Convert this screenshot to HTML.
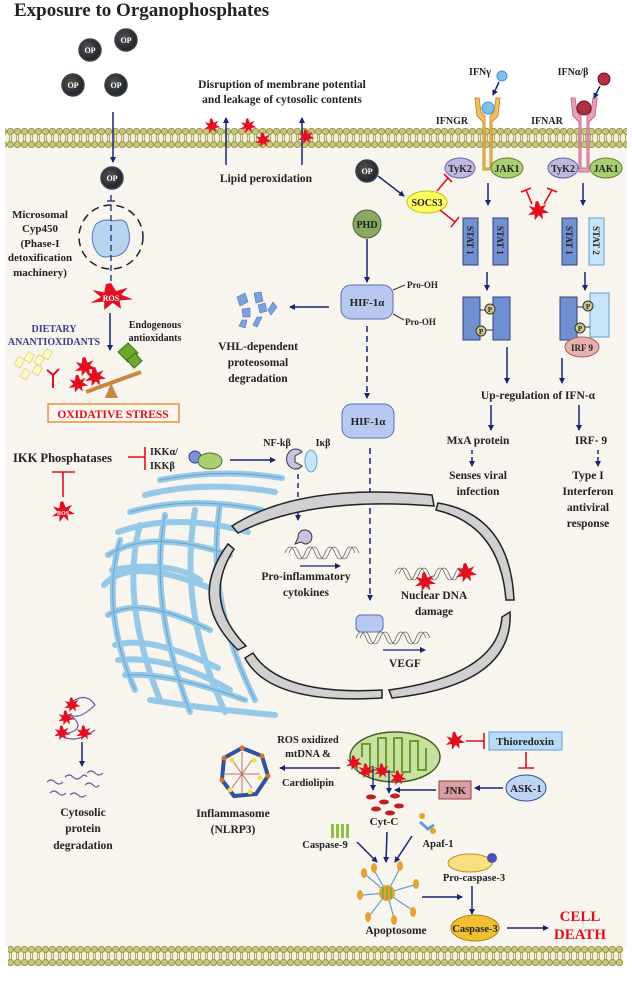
<!DOCTYPE html>
<html><head><meta charset="utf-8"><style>
html,body{margin:0;padding:0;background:#fff}
svg{display:block}
text{font-family:"Liberation Serif",serif;font-weight:bold;fill:#222}
</style></head><body>
<svg width="632" height="1002" viewBox="0 0 632 1002" xmlns="http://www.w3.org/2000/svg">
<defs>
<pattern id="mem" x="0" y="128" width="7" height="20" patternUnits="userSpaceOnUse">
<rect width="7" height="20" fill="#f3f0d8"/>
<circle cx="3.5" cy="3.5" r="3.1" fill="#c9c57a" stroke="#8a8a40" stroke-width="0.8"/>
<circle cx="3.5" cy="16.5" r="3.1" fill="#c9c57a" stroke="#8a8a40" stroke-width="0.8"/>
<line x1="2.5" y1="6.5" x2="2.5" y2="13.5" stroke="#9a9a60" stroke-width="0.8"/>
<line x1="4.5" y1="6.5" x2="4.5" y2="13.5" stroke="#9a9a60" stroke-width="0.8"/>
</pattern>
<pattern id="mem2" x="0" y="946" width="7" height="20" patternUnits="userSpaceOnUse">
<rect width="7" height="20" fill="#f3f0d8"/>
<circle cx="3.5" cy="3.5" r="3.1" fill="#c9c57a" stroke="#8a8a40" stroke-width="0.8"/>
<circle cx="3.5" cy="16.5" r="3.1" fill="#c9c57a" stroke="#8a8a40" stroke-width="0.8"/>
<line x1="2.5" y1="6.5" x2="2.5" y2="13.5" stroke="#9a9a60" stroke-width="0.8"/>
<line x1="4.5" y1="6.5" x2="4.5" y2="13.5" stroke="#9a9a60" stroke-width="0.8"/>
</pattern>
<marker id="ah" markerWidth="6" markerHeight="6" refX="5" refY="3" orient="auto" markerUnits="userSpaceOnUse"><path d="M0,0 L6,3 L0,6 z" fill="#1a2470"/></marker>
<radialGradient id="op" cx="0.4" cy="0.4"><stop offset="0" stop-color="#555"/><stop offset="1" stop-color="#2a2a2a"/></radialGradient>
<g id="star"><polygon transform="scale(0.65)" points="0,-12 3,-5 10,-8 6,-2 13,2 5,3 6,10 1,5 -4,11 -4,4 -12,5 -6,0 -11,-6 -4,-4 -3,-11" fill="#e01020"/></g>
<g id="dna" fill="none" stroke="#666" stroke-width="0.8">
<path d="M0,0 c3,-8 7,-8 10,0 s7,8 10,0 s7,-8 10,0 s7,8 10,0 s7,-8 10,0 s7,8 10,0 s7,-8 10,0"/>
<path d="M4,0 c3,-8 7,-8 10,0 s7,8 10,0 s7,-8 10,0 s7,8 10,0 s7,-8 10,0 s7,8 10,0 s7,-8 10,0"/>
</g>
</defs>

<rect x="5" y="146" width="622" height="802" fill="#f8f4ee"/>
<rect x="5" y="128" width="622" height="20" fill="url(#mem)"/>
<rect x="8" y="946" width="615" height="20" fill="url(#mem2)"/>

<text x="14" y="16" font-size="19" fill="#111">Exposure to Organophosphates</text>

<g font-size="8" text-anchor="middle">
<circle cx="90" cy="50" r="11" fill="url(#op)" stroke="#345" stroke-width="1.5"/><text x="90" y="53" style="fill:#fff">OP</text>
<circle cx="126" cy="40" r="11" fill="url(#op)" stroke="#345" stroke-width="1.5"/><text x="126" y="43" style="fill:#fff">OP</text>
<circle cx="73" cy="85" r="11" fill="url(#op)" stroke="#345" stroke-width="1.5"/><text x="73" y="88" style="fill:#fff">OP</text>
<circle cx="116" cy="85" r="11" fill="url(#op)" stroke="#345" stroke-width="1.5"/><text x="116" y="88" style="fill:#fff">OP</text>
<circle cx="112" cy="178" r="11" fill="url(#op)" stroke="#345" stroke-width="1.5"/><text x="112" y="181" style="fill:#fff">OP</text>
<circle cx="367" cy="171" r="11" fill="url(#op)" stroke="#345" stroke-width="1.5"/><text x="367" y="174" style="fill:#fff">OP</text>
</g>
<line x1="113" y1="112" x2="113" y2="162" stroke="#1a2470" stroke-width="1.5" marker-end="url(#ah)"/>

<circle cx="111" cy="237" r="32" fill="none" stroke="#222" stroke-width="1.5" stroke-dasharray="8,5"/>
<path d="M96,224 Q104,218 114,221 Q126,217 128,228 Q132,242 125,251 Q118,258 110,256 Q101,260 95,249 Q89,236 96,224 z" fill="#b8d4f0" stroke="#4a7ac0"/>
<line x1="111" y1="195" x2="111" y2="283" stroke="#1a2470" stroke-width="1.3" stroke-dasharray="6,4"/>
<line x1="107" y1="201" x2="115" y2="201" stroke="#1a2470" stroke-width="1.3"/>
<g font-size="11" text-anchor="middle">
<text x="40" y="218">Microsomal</text><text x="40" y="232">Cyp450</text><text x="40" y="247">(Phase-I</text><text x="40" y="261">detoxification</text><text x="40" y="276">machinery)</text>
</g>
<g transform="translate(111,297) scale(2.6,1.8)"><use href="#star"/></g>
<text x="111" y="301" font-size="8" text-anchor="middle" style="fill:#fff">ROS</text>
<line x1="110" y1="313" x2="110" y2="350" stroke="#1a2470" stroke-width="1.5" marker-end="url(#ah)"/>
<text x="54" y="332" font-size="10" text-anchor="middle" style="fill:#3a3a8a">DIETARY</text>
<text x="54" y="345" font-size="10" text-anchor="middle" style="fill:#3a3a8a">ANANTIOXIDANTS</text>
<text x="155" y="328" font-size="10" text-anchor="middle">Endogenous</text>
<text x="155" y="341" font-size="10" text-anchor="middle">antioxidants</text>
<g fill="#fffbc0" stroke="#d8d090" stroke-width="0.8">
<rect x="16" y="358" width="7" height="9" transform="rotate(30 20 362)"/><rect x="26" y="353" width="7" height="9" transform="rotate(30 30 357)"/><rect x="36" y="356" width="7" height="9" transform="rotate(30 40 360)"/><rect x="44" y="350" width="7" height="9" transform="rotate(30 48 354)"/><rect x="22" y="370" width="7" height="9" transform="rotate(30 26 374)"/><rect x="34" y="366" width="7" height="9" transform="rotate(30 38 370)"/>
</g>
<path d="M47,370 L53,375 L53,388 M53,375 L59,369" stroke="#e01020" stroke-width="2" fill="none"/>
<g transform="translate(85,367) scale(1.3)"><use href="#star"/></g>
<g transform="translate(95,377) scale(1.3)"><use href="#star"/></g>
<g transform="translate(78,384) scale(1.2)"><use href="#star"/></g>
<polygon points="118,352 128,343 138,353 128,362" fill="#6aa830" stroke="#3a7010"/>
<polygon points="127,360 135,353 142,361 134,368" fill="#6aa830" stroke="#3a7010"/>
<line x1="86" y1="392" x2="141" y2="372" stroke="#c88840" stroke-width="4"/>
<polygon points="111,383 105,398 118,398" fill="#c88840"/>
<rect x="48" y="404" width="131" height="18" fill="#fdf6ec" stroke="#e89040" stroke-width="1.5"/>
<text x="113" y="418" font-size="11.5" text-anchor="middle" style="fill:#e01020">OXIDATIVE STRESS</text>

<g font-size="11.5" text-anchor="middle">
<text x="282" y="88">Disruption of membrane potential</text>
<text x="282" y="103">and leakage of cytosolic contents</text>
<text x="266" y="182">Lipid peroxidation</text>
</g>
<line x1="226" y1="165" x2="226" y2="118" stroke="#1a2470" stroke-width="1.5" marker-end="url(#ah)"/>
<line x1="302" y1="165" x2="302" y2="118" stroke="#1a2470" stroke-width="1.5" marker-end="url(#ah)"/>
<use href="#star" x="212" y="126"/><use href="#star" x="248" y="126"/><use href="#star" x="263" y="140"/><use href="#star" x="306" y="137"/>

<circle cx="367" cy="224" r="14" fill="#8aa860" stroke="#4a6030"/>
<text x="367" y="228" font-size="10" text-anchor="middle">PHD</text>
<line x1="367" y1="239" x2="367" y2="282" stroke="#1a2470" stroke-width="1.5" marker-end="url(#ah)"/>
<rect x="341" y="285" width="52" height="34" rx="10" fill="#b8c8f0" stroke="#5a70b0"/>
<text x="367" y="306" font-size="11" text-anchor="middle">HIF-1α</text>
<path d="M393,290 L405,285 M393,314 L404,320" stroke="#333"/>
<text x="407" y="288" font-size="9">Pro-OH</text><text x="405" y="325" font-size="9">Pro-OH</text>
<line x1="329" y1="307" x2="290" y2="307" stroke="#1a2470" stroke-width="1.5" marker-end="url(#ah)"/>
<g fill="#7ea0e0" stroke="#4a70b0" stroke-width="0.6">
<polygon points="237,297 245,293 248,302 240,306"/><polygon points="254,293 261,292 263,301 256,303"/><polygon points="242,309 250,308 250,317 243,317"/><polygon points="258,305 265,303 267,311 260,313"/><polygon points="273,302 277,307 271,315 268,310"/><polygon points="242,320 247,320 245,328 239,326"/><polygon points="257,317 262,317 257,327 253,325"/>
</g>
<g font-size="11.5" text-anchor="middle"><text x="258" y="350">VHL-dependent</text><text x="258" y="366">proteosomal</text><text x="258" y="382">degradation</text></g>
<line x1="367" y1="326" x2="367" y2="398" stroke="#1a2470" stroke-width="1.5" stroke-dasharray="6,4" marker-end="url(#ah)"/>
<rect x="342" y="404" width="52" height="34" rx="10" fill="#b8c8f0" stroke="#5a70b0"/>
<text x="368" y="425" font-size="11" text-anchor="middle">HIF-1α</text>
<line x1="370" y1="448" x2="370" y2="600" stroke="#1a2470" stroke-width="1.5" stroke-dasharray="6,4" marker-end="url(#ah)"/>

<text x="480" y="75" font-size="10" text-anchor="middle">IFNγ</text>
<circle cx="502" cy="76" r="5" fill="#7ec0f0" stroke="#4a90d0"/>
<text x="573" y="75" font-size="10" text-anchor="middle">IFNα/β</text>
<circle cx="604" cy="79" r="6" fill="#b03040" stroke="#701020"/>
<text x="452" y="124" font-size="10" text-anchor="middle">IFNGR</text>
<text x="547" y="124" font-size="10" text-anchor="middle">IFNAR</text>
<path d="M475,98 L479,98 L481,112 L485,116 L485,168 L490,168 L490,116 L494,112 L496,98 L500,98 L498,116 L492,122 L492,170 L483,170 L483,122 L477,116 z" fill="#f0c060" stroke="#c89030"/>
<circle cx="488" cy="108" r="6" fill="#7ec0f0" stroke="#4a90d0"/>
<path d="M571,98 L575,98 L577,112 L581,116 L581,168 L587,168 L587,116 L591,112 L593,98 L597,98 L595,116 L589,122 L589,172 L579,172 L579,122 L573,116 z" fill="#e8a0b8" stroke="#c07090"/>
<circle cx="584" cy="108" r="7" fill="#b03040" stroke="#701020"/>
<line x1="499" y1="82" x2="493" y2="95" stroke="#1a2470" stroke-width="1.5" marker-end="url(#ah)"/>
<line x1="600" y1="86" x2="594" y2="98" stroke="#1a2470" stroke-width="1.5" marker-end="url(#ah)"/>
<g font-size="10" text-anchor="middle">
<ellipse cx="460" cy="168" rx="15" ry="10" fill="#c0b8e0" stroke="#6a60a0"/><text x="460" y="172">TyK2</text>
<ellipse cx="507" cy="168" rx="16" ry="10" fill="#a8d070" stroke="#608030"/><text x="507" y="172">JAK1</text>
<ellipse cx="563" cy="168" rx="15" ry="10" fill="#c0b8e0" stroke="#6a60a0"/><text x="563" y="172">TyK2</text>
<ellipse cx="606" cy="168" rx="16" ry="10" fill="#a8d070" stroke="#608030"/><text x="606" y="172">JAK1</text>
<ellipse cx="427" cy="202" rx="20" ry="11" fill="#ffff60" stroke="#c0c000"/><text x="427" y="206">SOCS3</text>
</g>
<line x1="378" y1="176" x2="404" y2="196" stroke="#1a2470" stroke-width="1.5" marker-end="url(#ah)"/>
<g stroke="#e01020" stroke-width="1.6" fill="none">
<path d="M437,191 L448,178 M444,174 L452,182"/>
<path d="M440,210 L455,222 M451,227 L459,217"/>
<path d="M532,204 L526,190 M521,192 L531,188"/>
<path d="M544,204 L552,190 M547,188 L557,192"/>
</g>
<g transform="translate(538,211) scale(1.3)"><use href="#star"/></g>
<line x1="488" y1="183" x2="488" y2="205" stroke="#1a2470" stroke-width="1.5" marker-end="url(#ah)"/>
<line x1="583" y1="183" x2="583" y2="205" stroke="#1a2470" stroke-width="1.5" marker-end="url(#ah)"/>
<g font-size="9">
<rect x="463" y="218" width="15" height="47" fill="#7090d0" stroke="#304080"/>
<text transform="translate(467,226) rotate(90)">STAT 1</text>
<rect x="493" y="218" width="15" height="47" fill="#7090d0" stroke="#304080"/>
<text transform="translate(497,226) rotate(90)">STAT 1</text>
<rect x="562" y="218" width="15" height="47" fill="#7090d0" stroke="#304080"/>
<text transform="translate(566,226) rotate(90)">STAT 1</text>
<rect x="589" y="218" width="15" height="47" fill="#c8e4f8" stroke="#60a0d0"/>
<text transform="translate(593,226) rotate(90)">STAT 2</text>
</g>
<line x1="487" y1="272" x2="487" y2="290" stroke="#1a2470" stroke-width="1.5" marker-end="url(#ah)"/>
<line x1="585" y1="272" x2="585" y2="290" stroke="#1a2470" stroke-width="1.5" marker-end="url(#ah)"/>
<rect x="463" y="297" width="17" height="43" fill="#7090d0" stroke="#304080"/>
<rect x="493" y="297" width="17" height="43" fill="#7090d0" stroke="#304080"/>
<rect x="560" y="297" width="17" height="43" fill="#7090d0" stroke="#304080"/>
<rect x="590" y="293" width="19" height="44" fill="#c8e4f8" stroke="#60a0d0"/>
<g font-size="7" text-anchor="middle">
<line x1="480" y1="310" x2="493" y2="310" stroke="#333"/><circle cx="490" cy="309" r="5" fill="#c8c890" stroke="#333"/><text x="490" y="312">P</text>
<line x1="480" y1="330" x2="493" y2="330" stroke="#333"/><circle cx="481" cy="331" r="5" fill="#c8c890" stroke="#333"/><text x="481" y="334">P</text>
<line x1="577" y1="307" x2="590" y2="307" stroke="#333"/><circle cx="588" cy="306" r="5" fill="#c8c890" stroke="#333"/><text x="588" y="309">P</text>
<line x1="577" y1="327" x2="590" y2="327" stroke="#333"/><circle cx="580" cy="328" r="5" fill="#c8c890" stroke="#333"/><text x="580" y="331">P</text>
</g>
<ellipse cx="582" cy="347" rx="17" ry="10" fill="#e8b0b0" stroke="#a06060"/>
<text x="582" y="351" font-size="9" text-anchor="middle">IRF 9</text>
<line x1="507" y1="347" x2="507" y2="383" stroke="#1a2470" stroke-width="1.5" marker-end="url(#ah)"/>
<line x1="562" y1="358" x2="562" y2="383" stroke="#1a2470" stroke-width="1.5" marker-end="url(#ah)"/>
<g font-size="11.5" text-anchor="middle">
<text x="538" y="399">Up-regulation of IFN-α</text>
<text x="478" y="444">MxA protein</text><text x="591" y="444">IRF- 9</text>
<text x="478" y="479">Senses viral</text><text x="478" y="495">infection</text>
<text x="588" y="479">Type I</text><text x="588" y="495">Interferon</text><text x="588" y="511">antiviral</text><text x="588" y="527">response</text>
</g>
<line x1="491" y1="405" x2="491" y2="430" stroke="#1a2470" stroke-width="1.5" marker-end="url(#ah)"/>
<line x1="579" y1="405" x2="579" y2="430" stroke="#1a2470" stroke-width="1.5" marker-end="url(#ah)"/>
<line x1="472" y1="450" x2="472" y2="466" stroke="#1a2470" stroke-width="1.5" stroke-dasharray="4,3" marker-end="url(#ah)"/>
<line x1="598" y1="450" x2="598" y2="466" stroke="#1a2470" stroke-width="1.5" stroke-dasharray="4,3" marker-end="url(#ah)"/>

<!-- Golgi -->
<g fill="none" stroke="#96c8e8" stroke-width="6" stroke-linecap="round">
<path d="M160,480 Q220,468 282,478"/><path d="M145,495 Q205,480 275,492"/>
<path d="M130,512 Q190,495 262,510"/><path d="M118,532 Q175,512 248,532"/>
<path d="M108,555 Q150,528 230,555"/><path d="M104,585 Q130,555 215,590"/>
<path d="M108,615 Q140,595 210,630"/><path d="M115,645 Q150,635 218,668"/>
<path d="M125,675 Q170,672 245,700"/><path d="M150,700 Q200,708 275,715"/>
<path d="M140,525 Q120,600 160,700"/><path d="M165,515 Q148,600 190,712"/><path d="M195,510 Q178,610 225,712"/>
<path d="M120,540 Q100,610 135,690"/><path d="M220,505 Q205,600 255,700"/>
<path d="M112,570 Q170,560 200,580"/><path d="M118,660 Q170,655 230,690"/>
</g>
<g fill="none" stroke="#5a9ac8" stroke-width="1" opacity="0.8">
<path d="M160,480 Q220,468 282,478"/><path d="M130,512 Q190,495 262,510"/><path d="M108,555 Q150,528 230,555"/><path d="M108,615 Q140,595 210,630"/><path d="M125,675 Q170,672 245,700"/><path d="M165,515 Q148,600 190,712"/><path d="M120,540 Q100,610 135,690"/><path d="M220,505 Q205,600 255,700"/>
</g>

<text x="13" y="462" font-size="12.5">IKK  Phosphatases</text>
<path d="M128,457 L145,457 M145,447 L145,470" stroke="#e01020" stroke-width="1.6" fill="none"/>
<text x="150" y="455" font-size="10">IKKα/</text><text x="150" y="469" font-size="10">IKKβ</text>
<circle cx="195" cy="457" r="6" fill="#8090e0" stroke="#304080"/>
<ellipse cx="210" cy="461" rx="12" ry="8" fill="#a8d070" stroke="#507020"/>
<line x1="230" y1="460" x2="275" y2="460" stroke="#1a2470" stroke-width="1.5" marker-end="url(#ah)"/>
<text x="277" y="446" font-size="10" text-anchor="middle">NF-kβ</text><text x="323" y="446" font-size="10" text-anchor="middle">Iκβ</text>
<path d="M302,452 A9,10 0 1 0 302,466 L295,462 L295,456 z" fill="#c8c4e0" stroke="#333"/>
<ellipse cx="311" cy="461" rx="6" ry="11" fill="#c8e4f8" stroke="#60a0d0"/>
<line x1="298" y1="474" x2="298" y2="520" stroke="#1a2470" stroke-width="1.5" stroke-dasharray="5,4" marker-end="url(#ah)"/>
<path d="M52,472 L75,472 M63,472 L63,497" stroke="#e01020" stroke-width="1.6" fill="none"/>
<g transform="translate(63,512) scale(1.4)"><use href="#star"/></g>
<text x="63" y="515" font-size="6" text-anchor="middle" style="fill:#fff">ROS</text>

<g fill="#d0d0d0" stroke="#222" stroke-width="1.5">
<path d="M232,526 Q300,482 432,495 L434,506 Q310,496 238,533 z"/>
<path d="M438,503 Q510,515 514,600 L506,600 Q500,525 436,510 z"/>
<path d="M510,612 Q514,685 392,698 L389,690 Q498,675 502,617 z"/>
<path d="M382,698 Q270,705 245,658 L253,653 Q280,696 382,690 z"/>
<path d="M238,650 Q186,600 228,544 L234,549 Q201,600 246,646 z"/>
</g>
<path d="M298,538 A7,7 0 1 1 305,544 L301,542 L295,544 z" fill="#c8c4e0" stroke="#333"/>
<use href="#dna" x="285" y="553"/>
<use href="#dna" x="395" y="574"/>
<use href="#dna" x="356" y="638"/>
<g transform="translate(425,582) scale(1.3)"><use href="#star"/></g><g transform="translate(466,573) scale(1.3)"><use href="#star"/></g>
<rect x="356" y="615" width="27" height="17" rx="5" fill="#b8c8f0" stroke="#5a70b0"/>
<line x1="300" y1="566" x2="340" y2="566" stroke="#1a2470" stroke-width="1.3" marker-end="url(#ah)"/>
<line x1="383" y1="650" x2="425" y2="650" stroke="#1a2470" stroke-width="1.3" marker-end="url(#ah)"/>
<g font-size="11.5" text-anchor="middle">
<text x="306" y="580">Pro-inflammatory</text><text x="306" y="596">cytokines</text>
<text x="434" y="599">Nuclear DNA</text><text x="434" y="615">damage</text>
<text x="405" y="667">VEGF</text>
</g>

<path d="M68,705 Q85,690 95,705 Q80,720 70,715 Q90,730 60,735 Q75,745 95,730" fill="none" stroke="#6a5aa0" stroke-width="1.2"/>
<use href="#star" x="72" y="705"/><use href="#star" x="62" y="733"/><use href="#star" x="84" y="733"/><use href="#star" x="66" y="718"/>
<line x1="82" y1="742" x2="82" y2="766" stroke="#1a2470" stroke-width="1.5" marker-end="url(#ah)"/>
<g fill="none" stroke="#6a5aa0" stroke-width="1.2">
<path d="M47,782 q4,-4 8,0 t8,0"/><path d="M65,777 q4,-4 8,0 t8,0 t6,0"/><path d="M50,793 q4,-4 8,0 t8,0"/><path d="M87,773 q4,-4 8,0 t8,0"/><path d="M70,795 q4,-4 8,0 t8,0"/><path d="M85,785 q4,-4 8,0 t6,0"/>
</g>
<g font-size="11.5" text-anchor="middle"><text x="83" y="816">Cytosolic</text><text x="83" y="832">protein</text><text x="83" y="849">degradation</text></g>

<polygon points="242,748 262,756 268,776 256,794 234,796 222,780 224,758" fill="none" stroke="#3050a0" stroke-width="4"/>
<g stroke="#c07070" stroke-width="1"><line x1="232" y1="760" x2="252" y2="788"/><line x1="252" y1="760" x2="232" y2="788"/><line x1="225" y1="774" x2="260" y2="774"/><line x1="242" y1="752" x2="242" y2="794"/></g>
<g fill="#f0e040"><circle cx="232" cy="760" r="2.5"/><circle cx="254" cy="760" r="2.5"/><circle cx="260" cy="778" r="2.5"/><circle cx="230" cy="790" r="2.5"/><circle cx="250" cy="792" r="2.5"/></g>
<g fill="#e07020"><circle cx="242" cy="748" r="2.5"/><circle cx="262" cy="756" r="2.5"/><circle cx="268" cy="776" r="2.5"/><circle cx="222" cy="780" r="2.5"/><circle cx="224" cy="758" r="2.5"/></g>
<g font-size="11.5" text-anchor="middle"><text x="233" y="817">Inflammasome</text><text x="233" y="833">(NLRP3)</text></g>
<g font-size="10.5" text-anchor="middle"><text x="308" y="743">ROS oxidized</text><text x="308" y="757">mtDNA &amp;</text><text x="308" y="786">Cardiolipin</text></g>
<line x1="340" y1="768" x2="280" y2="768" stroke="#1a2470" stroke-width="1.5" marker-end="url(#ah)"/>

<ellipse cx="395" cy="757" rx="45" ry="25" fill="#c8e0a0" stroke="#406020" stroke-width="1.5"/>
<path d="M362,757 L362,744 L370,744 L370,770 L378,770 L378,738 L386,738 L386,772 L394,772 L394,738 L402,738 L402,772 L410,772 L410,741 L418,741 L418,770 L426,770 L426,748" fill="none" stroke="#6a9a30" stroke-width="2"/>
<use href="#star" x="354" y="763"/><use href="#star" x="366" y="771"/><use href="#star" x="382" y="771"/><use href="#star" x="398" y="778"/>
<line x1="373" y1="766" x2="373" y2="790" stroke="#1a2470" stroke-width="1.3" marker-end="url(#ah)"/>
<line x1="389" y1="770" x2="389" y2="793" stroke="#1a2470" stroke-width="1.3" marker-end="url(#ah)"/>
<g fill="#c02020"><ellipse cx="371" cy="797" rx="5" ry="2.5"/><ellipse cx="384" cy="802" rx="5" ry="2.5"/><ellipse cx="395" cy="796" rx="5" ry="2.5"/><ellipse cx="376" cy="809" rx="5" ry="2.5"/><ellipse cx="390" cy="813" rx="5" ry="2.5"/><ellipse cx="399" cy="806" rx="5" ry="2.5"/></g>
<g transform="translate(455,741) scale(1.2)"><use href="#star"/></g>
<path d="M466,741 L484,741 M484,733 L484,749" stroke="#e01020" stroke-width="1.6" fill="none"/>
<rect x="489" y="732" width="73" height="18" fill="#b8dcf8" stroke="#60a0d0"/>
<text x="525" y="745" font-size="11" text-anchor="middle">Thioredoxin</text>
<path d="M526,752 L526,768 M518,768 L534,768" stroke="#e01020" stroke-width="1.6" fill="none"/>
<ellipse cx="526" cy="788" rx="20" ry="13" fill="#c0d4f4" stroke="#3050a0"/>
<text x="526" y="792" font-size="11" text-anchor="middle">ASK-1</text>
<line x1="503" y1="788" x2="475" y2="788" stroke="#1a2470" stroke-width="1.5" marker-end="url(#ah)"/>
<rect x="439" y="781" width="32" height="18" fill="#d8a0a0" stroke="#904040"/>
<text x="455" y="794" font-size="11" text-anchor="middle">JNK</text>
<line x1="436" y1="790" x2="395" y2="790" stroke="#1a2470" stroke-width="1.5" marker-end="url(#ah)"/>
<text x="384" y="825" font-size="11" text-anchor="middle">Cyt-C</text>
<g fill="#90c040"><rect x="331" y="824" width="3" height="14"/><rect x="336" y="824" width="3" height="14"/><rect x="341" y="824" width="3" height="14"/><rect x="346" y="824" width="3" height="14"/></g>
<text x="325" y="848" font-size="10.5" text-anchor="middle">Caspase-9</text>
<path d="M420,822 L428,829 L434,825" stroke="#60a0d0" stroke-width="3" fill="none"/><circle cx="422" cy="816" r="3" fill="#e8a030"/><circle cx="433" cy="831" r="3" fill="#e8a030"/>
<text x="438" y="847" font-size="10.5" text-anchor="middle">Apaf-1</text>
<line x1="357" y1="842" x2="377" y2="862" stroke="#1a2470" stroke-width="1.5" marker-end="url(#ah)"/>
<line x1="387" y1="832" x2="386" y2="862" stroke="#1a2470" stroke-width="1.5" marker-end="url(#ah)"/>
<line x1="412" y1="836" x2="395" y2="862" stroke="#1a2470" stroke-width="1.5" marker-end="url(#ah)"/>
<g stroke="#60a0d0" stroke-width="1.2">
<line x1="387" y1="893" x2="374" y2="870"/><line x1="387" y1="893" x2="400" y2="868"/><line x1="387" y1="893" x2="414" y2="885"/><line x1="387" y1="893" x2="412" y2="910"/><line x1="387" y1="893" x2="394" y2="918"/><line x1="387" y1="893" x2="370" y2="915"/><line x1="387" y1="893" x2="362" y2="895"/><line x1="387" y1="893" x2="366" y2="875"/>
</g>
<g fill="#e8a030"><ellipse cx="374" cy="868" rx="3" ry="5"/><ellipse cx="400" cy="866" rx="3" ry="5"/><ellipse cx="416" cy="884" rx="3" ry="5"/><ellipse cx="413" cy="912" rx="3" ry="5"/><ellipse cx="394" cy="920" rx="3" ry="5"/><ellipse cx="368" cy="917" rx="3" ry="5"/><ellipse cx="360" cy="895" rx="3" ry="5"/><ellipse cx="364" cy="873" rx="3" ry="5"/></g>
<circle cx="387" cy="893" r="8" fill="#e8a030"/><g fill="#80b040"><rect x="382" y="887" width="2" height="12"/><rect x="386" y="887" width="2" height="12"/><rect x="390" y="887" width="2" height="12"/></g>
<text x="396" y="934" font-size="11.5" text-anchor="middle">Apoptosome</text>
<ellipse cx="470" cy="863" rx="22" ry="9" fill="#f8e080" stroke="#c09020"/>
<circle cx="492" cy="858" r="5" fill="#4a50b0"/>
<text x="474" y="881" font-size="10.5" text-anchor="middle">Pro-caspase-3</text>
<line x1="422" y1="897" x2="462" y2="897" stroke="#1a2470" stroke-width="1.5" marker-end="url(#ah)"/>
<line x1="472" y1="886" x2="472" y2="914" stroke="#1a2470" stroke-width="1.5" marker-end="url(#ah)"/>
<ellipse cx="475" cy="928" rx="24" ry="13" fill="#f0c030" stroke="#b08010"/>
<text x="475" y="932" font-size="10.5" text-anchor="middle">Caspase-3</text>
<line x1="507" y1="928" x2="548" y2="928" stroke="#1a2470" stroke-width="1.5" marker-end="url(#ah)"/>
<text x="580" y="921" font-size="15" text-anchor="middle" style="fill:#e01020">CELL</text>
<text x="580" y="939" font-size="15" text-anchor="middle" style="fill:#e01020">DEATH</text>
</svg>
</body></html>
